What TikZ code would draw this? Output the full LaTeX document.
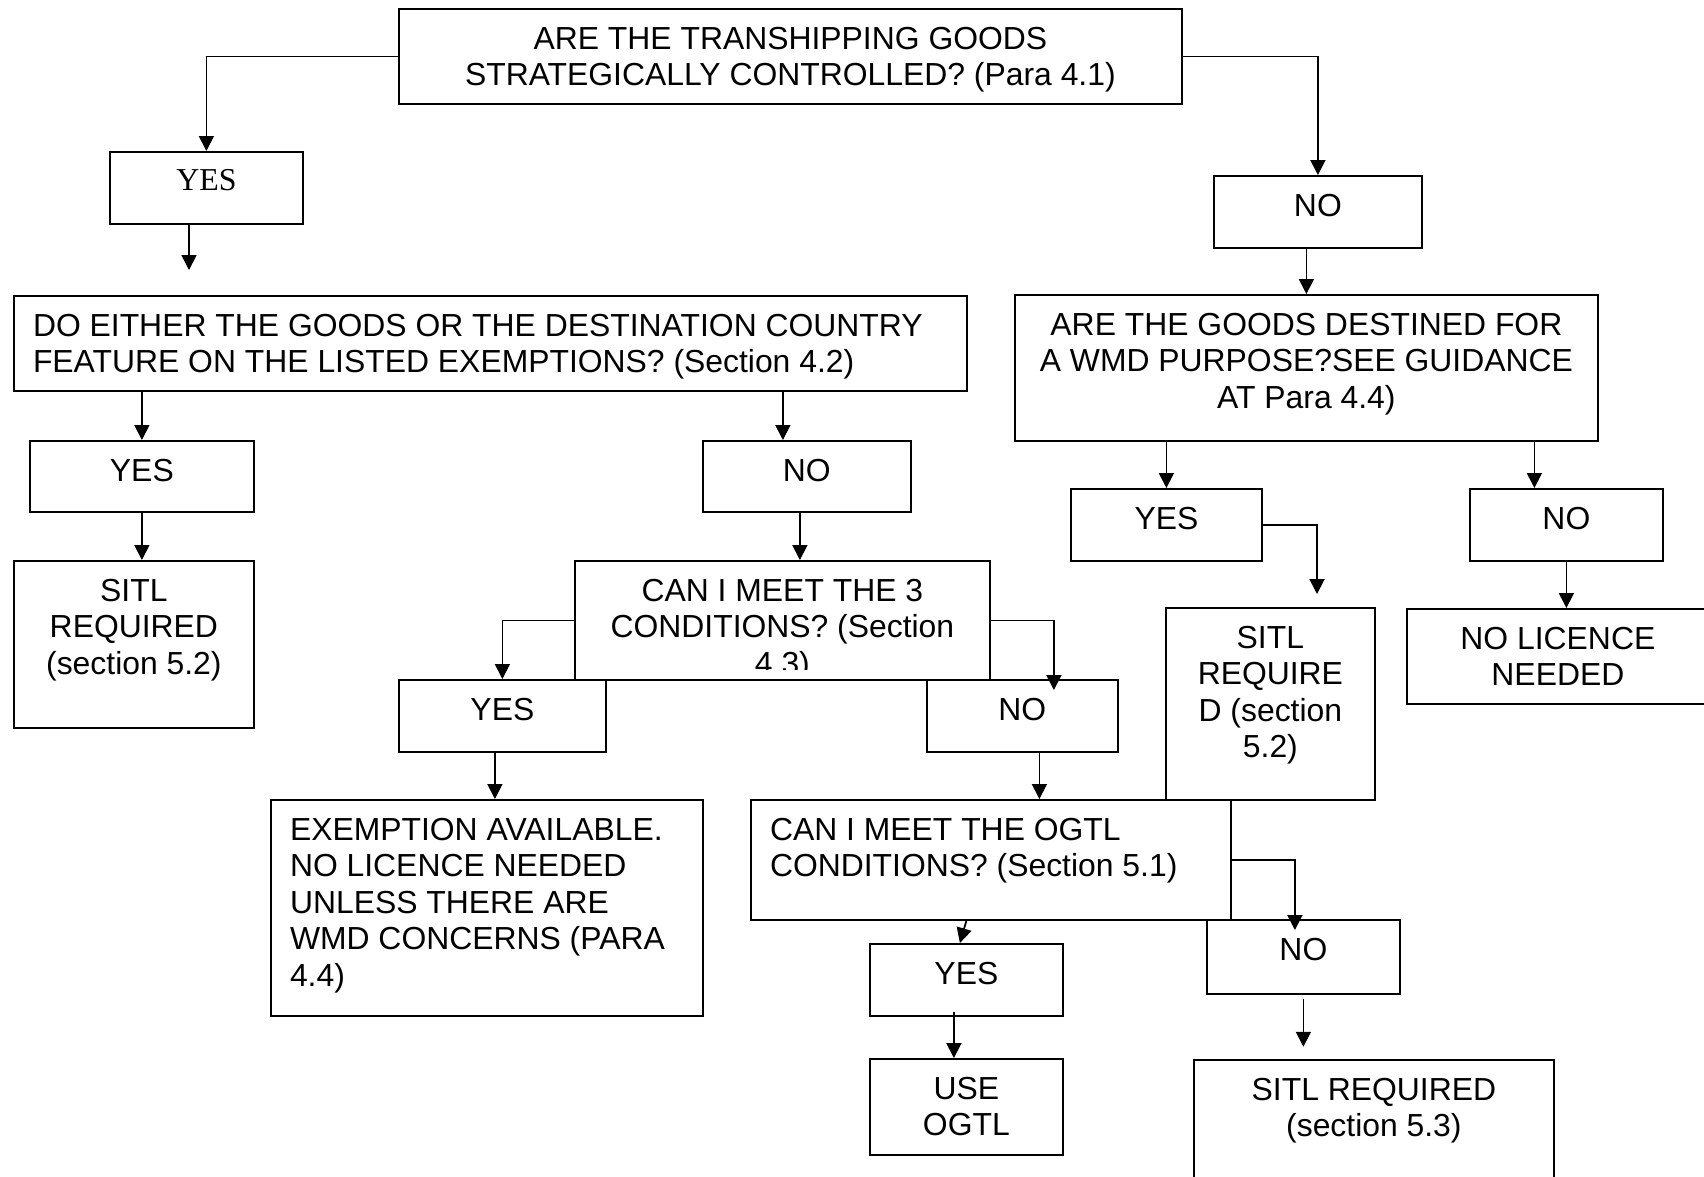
\documentclass[tikz,border=0pt]{standalone}
\usepackage{fontspec}
\setmainfont{Liberation Sans}
\newfontfamily\yesserif{Liberation Serif}
\usepackage{tikz}
\usetikzlibrary{arrows.meta}
\newcommand{\chartfont}{\fontsize{12.75pt}{14.6pt}\selectfont}
\tikzset{%
  chartbox/.style 2 args={%
    draw,
    line width=0.7pt,
    anchor=north west,
    inner sep=0pt,
    minimum width=#1*0.4pt,
    minimum height=#2*0.4pt
  },
  boxtext/.style={%
    anchor=north,
    align=center,
    inner xsep=7.8pt,
    inner ysep=7.3pt,
    font=\chartfont
  },
  boxtextl/.style={boxtext,anchor=north west,align=left},
  chartarrow/.style={-{Triangle[length=6pt,width=6pt]},line width=0.7pt}
}

\begin{document}
\begin{tikzpicture}[x=0.4pt,y=-0.4pt]
    \path[use as bounding box,fill=white] (0,0) rectangle (1704,1176);
    \clip (0,0) rectangle (1704,1176);

    % top question
    \node[chartbox={783}{95},label={[boxtext]north:ARE THE TRANSHIPPING GOODS\\STRATEGICALLY CONTROLLED? (Para 4.1)}] (q1) at (398,8) {};
    \node[chartbox={193}{72},label={[boxtext,font=\yesserif\chartfont]north:YES}] (yes1) at (109,151) {};
    \node[chartbox={208}{72},label={[boxtext]north:NO}] (no1) at (1213,175) {};

    % controlled goods
    \node[chartbox={953}{95},label={[boxtextl]north west:DO EITHER THE GOODS OR THE DESTINATION COUNTRY\\FEATURE ON THE LISTED EXEMPTIONS? (Section 4.2)}] (q2) at (13,295) {};
    \node[chartbox={224}{71},label={[boxtext]north:YES}] (yes2) at (29,440) {};
    \node[chartbox={208}{71},label={[boxtext]north:NO}] (no2) at (702,440) {};
    \node[chartbox={240}{167},label={[boxtext]north:SITL\\REQUIRED\\(section 5.2)}] (sitl1) at (13,560) {};
    \node[chartbox={415}{119}] (q4) at (574,560) {};
    \begin{scope}
      \clip (q4.north west) rectangle ([yshift=4.4pt]q4.south east);
      \node[boxtext] (q4text) at (q4.north) {CAN I MEET THE 3\\CONDITIONS? (Section\\4.3)};
    \end{scope}
    \node[chartbox={207}{72},label={[boxtext]north:YES}] (yes3) at (398,679) {};
    \node[chartbox={191}{72},label={[boxtext]north:NO}] (no3) at (926,679) {};
    \node[chartbox={432}{216},label={[boxtextl]north west:EXEMPTION AVAILABLE.\\NO LICENCE NEEDED\\UNLESS THERE ARE\\WMD CONCERNS (PARA\\4.4)}] (exempt) at (270,799) {};
    \node[chartbox={480}{120},label={[boxtextl]north west:CAN I MEET THE OGTL\\CONDITIONS? (Section 5.1)}] (q5) at (750,799) {};
    \node[chartbox={193}{72},label={[boxtext]north:YES}] (yes5) at (869,943) {};
    \node[chartbox={193}{96},label={[boxtext]north:USE\\OGTL}] (useogtl) at (869,1058) {};
    \node[chartbox={193}{74},label={[boxtext]north:NO}] (no5) at (1206,919) {};
    \node[chartbox={360}{150},label={[boxtext]north:SITL REQUIRED\\(section 5.3)}] (sitl3) at (1193,1059) {};

    % not controlled
    \node[chartbox={583}{146},label={[boxtext]north:ARE THE GOODS DESTINED FOR\\A WMD PURPOSE?SEE GUIDANCE\\AT Para 4.4)}] (q3) at (1014,294) {};
    \node[chartbox={191}{72},label={[boxtext]north:YES}] (yes4) at (1070,488) {};
    \node[chartbox={193}{72},label={[boxtext]north:NO}] (no4) at (1469,488) {};
    \node[chartbox={209}{192},label={[boxtext]north:SITL\\REQUIRE\\D (section\\5.2)}] (sitl2) at (1165,607) {};
    \node[chartbox={302}{95},label={[boxtext]north:NO LICENCE\\NEEDED}] (nolic) at (1406,608) {};

    % connectors
    \coordinate (yes1out) at (189,270);
    \coordinate (no2in) at ([xshift=-9.6pt]no2.north);
    \coordinate (q4in) at ([xshift=-2.8pt]no2.south);
    \coordinate (no3in) at ([xshift=12.6pt,yshift=-4.4pt]no3.north);
    \coordinate (exemptin) at ([xshift=-3pt]yes3.south);
    \coordinate (q5in) at ([xshift=6.8pt]no3.south);
    \coordinate (no4in) at ([xshift=-12.8pt]no4.north);
    \coordinate (sitl2in) at (1317,594);
    \coordinate (no5in) at ([xshift=-3.4pt,yshift=-4.4pt]no5.north);
    \coordinate (ogtlin) at ([xshift=-5pt]useogtl.north);
    \coordinate (sitl3in) at ([yshift=-20.8pt]no5.south);

    \draw[chartarrow] (q1.west) -| (yes1.north);
    \draw[chartarrow] (yes1.south -| yes1out) -- (yes1out);
    \draw[chartarrow] (q1.east) -| (no1.north);
    \draw[chartarrow] (no1.south -| q3.north) -- (q3.north);
    \draw[chartarrow] (q2.south -| yes2.north) -- (yes2.north);
    \draw[chartarrow] (q2.south -| no2in) -- (no2in);
    \draw[chartarrow] (yes2.south) -- (yes2.south |- sitl1.north);
    \draw[chartarrow] (q4in) -- (q4in |- q4.north);
    \draw[chartarrow] (q4.west) -| (yes3.north);
    \draw[chartarrow] (q4.east) -| (no3in);
    \draw[chartarrow] (exemptin) -- (exemptin |- exempt.north);
    \draw[chartarrow] (q5in) -- (q5in |- q5.north);
    \draw[chartarrow] (q3.south -| yes4.north) -- (yes4.north);
    \draw[chartarrow] (q3.south -| no4in) -- (no4in);
    \draw[chartarrow] (no4.south) -- (no4.south |- nolic.north);
    \draw[chartarrow] (yes4.east) -| (sitl2in);
    \draw[chartarrow] (q5.east) -| (no5in);
    \draw[chartarrow] (q5.south -| yes5.north) -- ([xshift=-2.6pt]yes5.north);
    \draw[chartarrow] (yes5.south -| ogtlin) ++(0,-5) -- (ogtlin);
    \draw[chartarrow] (no5.south) ++(0,4) -- (sitl3in);
\end{tikzpicture}
\end{document}
